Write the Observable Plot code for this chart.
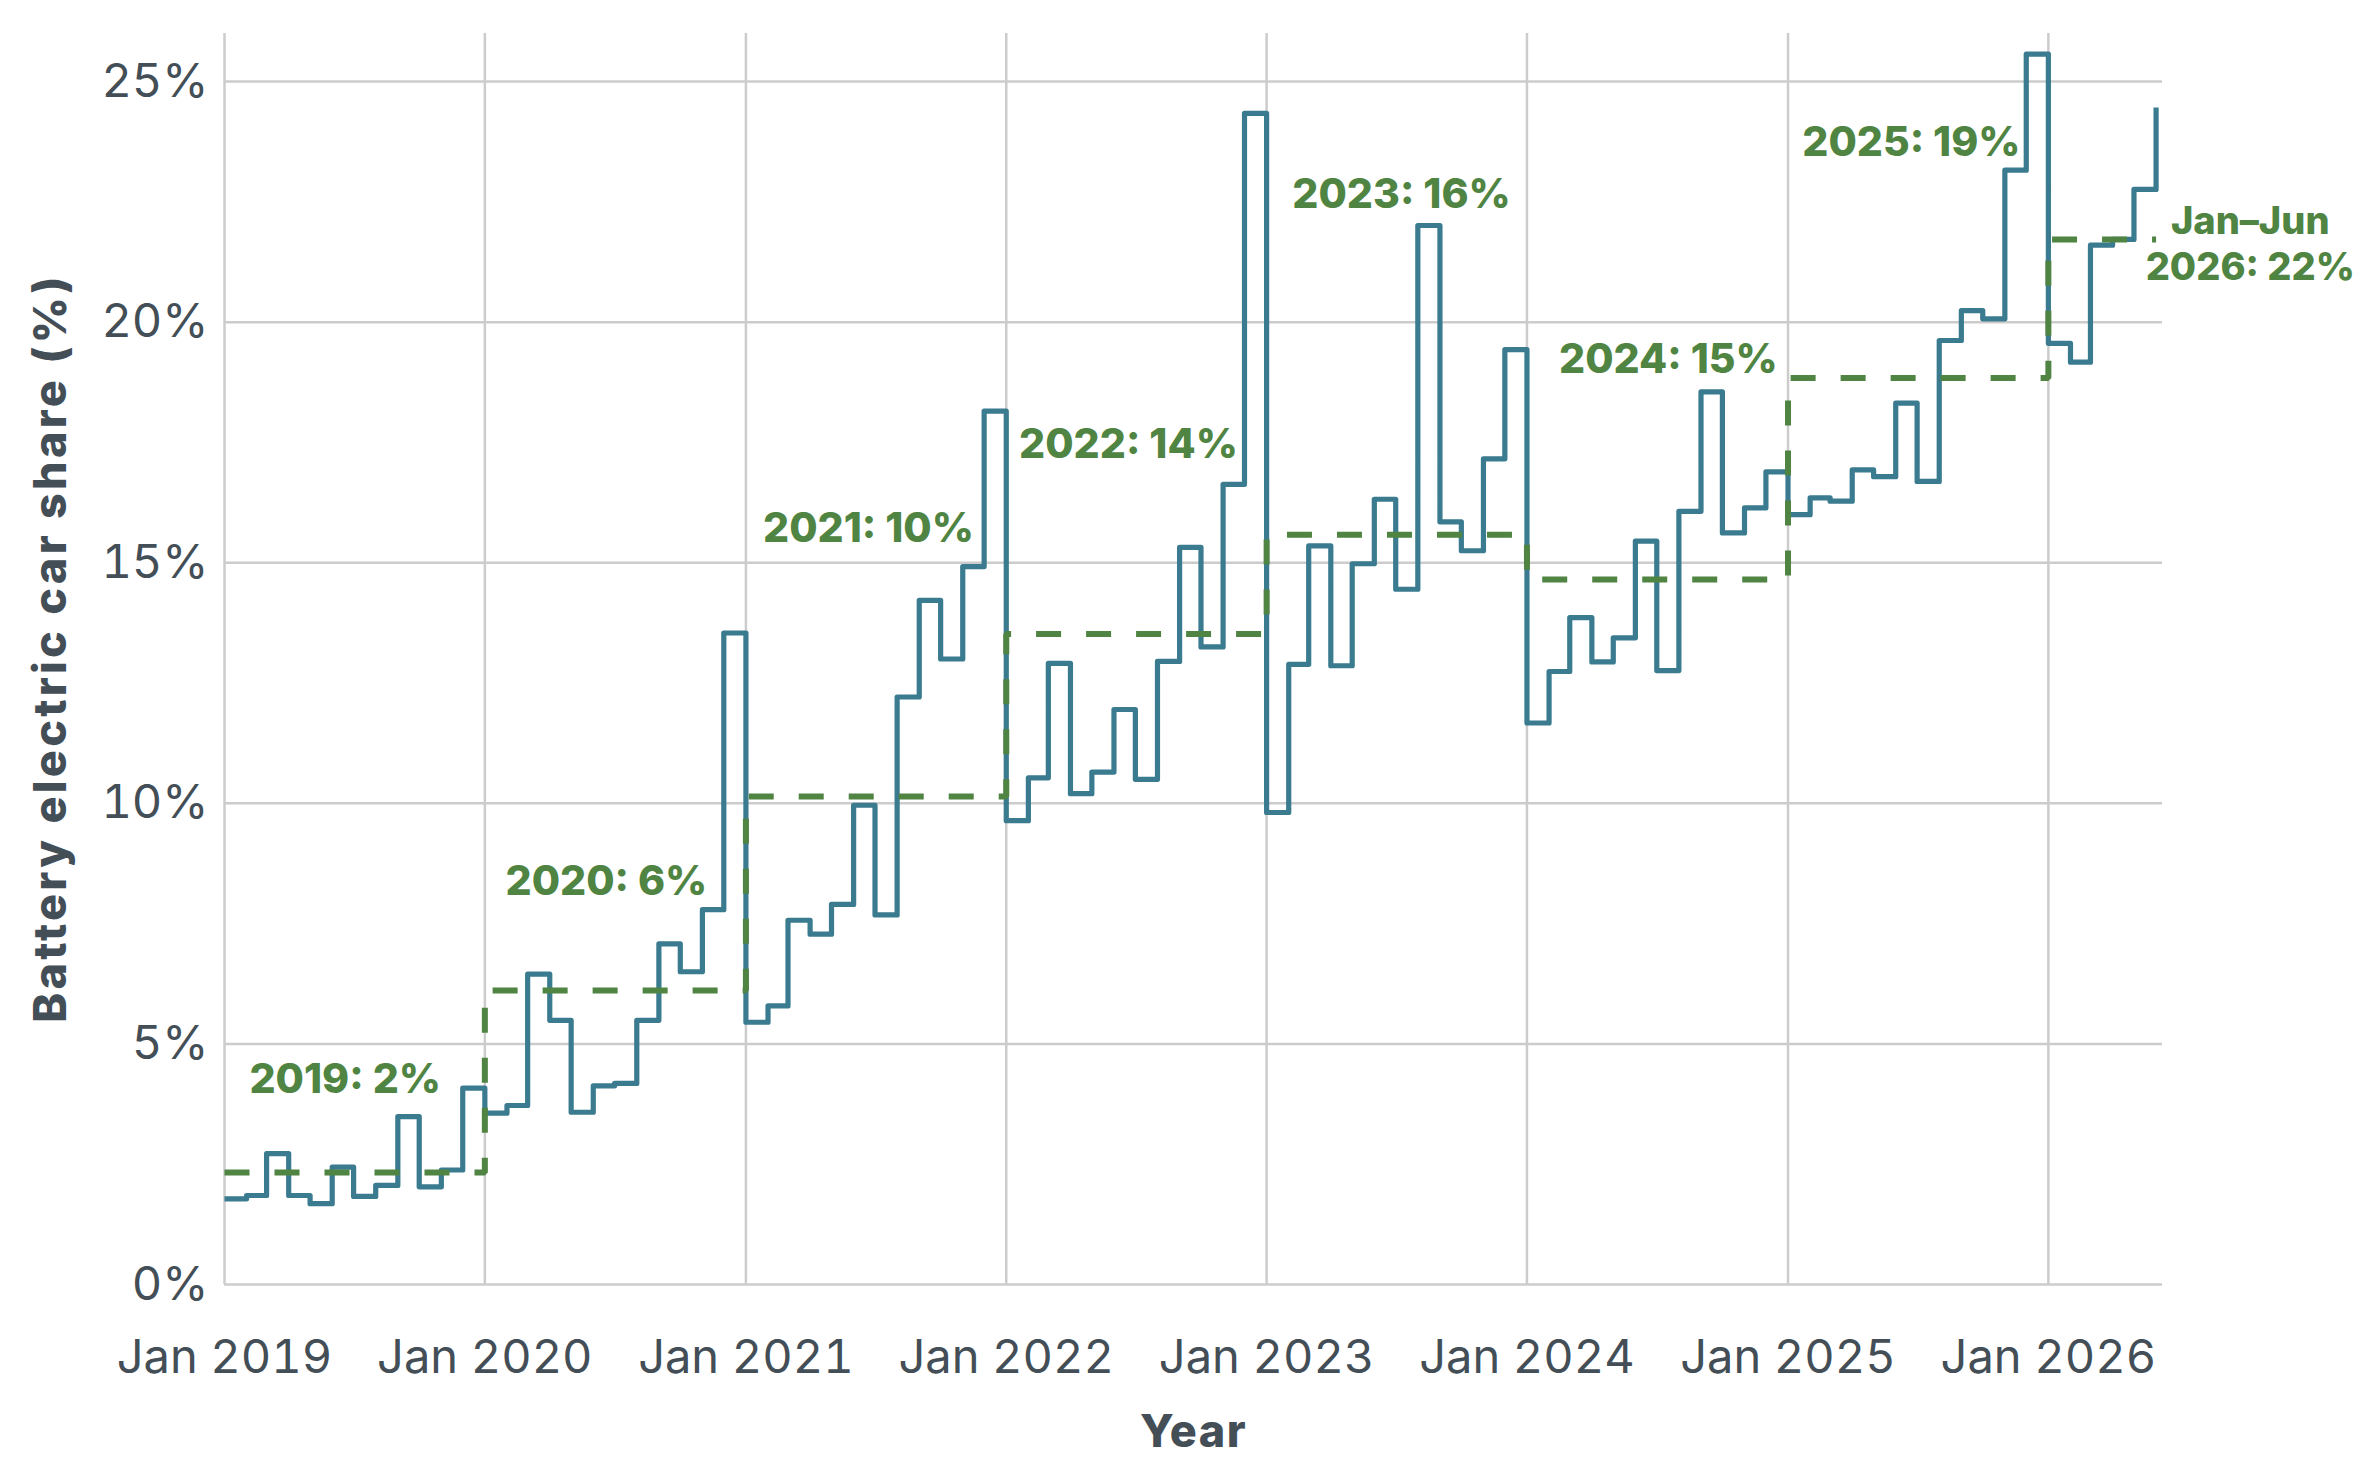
<!DOCTYPE html>
<html>
<head>
<meta charset="utf-8">
<script src="https://cdn.jsdelivr.net/npm/d3@7"></script>
<script src="https://cdn.jsdelivr.net/npm/@observablehq/plot@0.6"></script>
<style>
  html, body { margin: 0; padding: 0; background: #ffffff; }
  #chart svg { display: block; }
  .ytitle text { letter-spacing: 3.3px; }
  .xtitle text { letter-spacing: 1.5px; }
</style>
</head>
<body>
<div id="chart"></div>
<script>
// Monthly battery electric car share (%), Jan 2019 – Jun 2026
const startMonth = "2019-01-01";
const share2019 = [1.78, 1.85, 2.72, 1.85, 1.68, 2.44, 1.83, 2.06, 3.49, 2.03, 2.38, 4.08];
const share2020 = [3.56, 3.72, 6.45, 5.49, 3.58, 4.13, 4.18, 5.49, 7.08, 6.50, 7.79, 13.54];
const share2021 = [5.45, 5.79, 7.57, 7.28, 7.90, 9.96, 7.68, 12.21, 14.22, 13.00, 14.92, 18.15];
const share2022 = [9.64, 10.53, 12.91, 10.20, 10.65, 11.95, 10.50, 12.95, 15.32, 13.25, 16.63, 24.34];
const share2023 = [9.81, 12.89, 15.35, 12.86, 14.98, 16.32, 14.45, 22.01, 15.85, 15.25, 17.16, 19.43];
const share2024 = [11.67, 12.74, 13.86, 12.94, 13.44, 15.45, 12.76, 16.07, 18.55, 15.62, 16.14, 16.89];
const share2025 = [16.00, 16.35, 16.28, 16.93, 16.79, 18.32, 16.69, 19.62, 20.24, 20.07, 23.16, 25.57];
const share2026 = [19.56, 19.17, 21.60, 21.72, 22.76, 24.46];

// Annual averages (%)
const years = [2019, 2020, 2021, 2022, 2023, 2024, 2025, 2026];
const annualShare = [2.33, 6.11, 10.14, 13.52, 15.58, 14.65, 18.84, 21.72];

// Annotation labels (anchored in data units)
const labelText = ["2019: 2%", "2020: 6%", "2021: 10%", "2022: 14%", "2023: 16%", "2024: 15%", "2025: 19%"];
const labelDate = ["2019-02-05", "2020-01-30", "2021-01-25", "2022-01-19", "2023-02-06", "2024-02-15", "2025-01-21"];
const labelValue = [3.97, 8.10, 15.44, 17.17, 22.37, 18.94, 23.45];
const lastLabelText = ["Jan–Jun", "2026: 22%"];
const lastLabelDate = "2026-10-11";
const lastLabelValue = [21.84, 20.87];

// Axis ticks
const xTickYears = [2019, 2020, 2021, 2022, 2023, 2024, 2025, 2026];
const yTicks = [0, 5, 10, 15, 20, 25];
const xDomainEnd = "2026-06-10";
const yDomain = [0, 26];

// ---- build tables ----
const allShares = [share2019, share2020, share2021, share2022, share2023, share2024, share2025, share2026].flat();
const t0 = new Date(startMonth);
const monthly = allShares.map((v, i) => ({
  date: new Date(Date.UTC(t0.getUTCFullYear(), t0.getUTCMonth() + i, 1)),
  value: v
}));
const lastDate = monthly[monthly.length - 1].date;
const annual = years.map((y, i) => ({date: new Date(Date.UTC(y, 0, 1)), value: annualShare[i]}));
annual.push({date: lastDate, value: annualShare[annualShare.length - 1]});
const labels = labelText.map((t, i) => ({text: t, date: new Date(labelDate[i]), value: labelValue[i]}));
const lastLabel = lastLabelText.map((t, i) => ({text: t, date: new Date(lastLabelDate), value: lastLabelValue[i]}));
const xTicks = xTickYears.map(y => new Date(Date.UTC(y, 0, 1)));

const blue = "#3a7b90";
const green = "#4f8442";
const textGray = "#434e57";
const gridGray = "#cccccc";

const chart = Plot.plot({
  width: 2366,
  height: 1460,
  marginLeft: 224,
  marginRight: 204,
  marginTop: 33,
  marginBottom: 176,
  style: {fontFamily: "Inter, 'Noto Sans', sans-serif", background: "#ffffff", color: textGray},
  x: {type: "utc", domain: [new Date(startMonth), new Date(xDomainEnd)]},
  y: {domain: yDomain},
  marks: [
    Plot.gridX(xTicks, {stroke: gridGray, strokeOpacity: 1, strokeWidth: 2.5}),
    Plot.gridY(yTicks, {stroke: gridGray, strokeOpacity: 1, strokeWidth: 2.5}),
    Plot.axisX(xTicks, {
      tickSize: 0, tickPadding: 55, fontSize: 47, label: null,
      tickFormat: d3.utcFormat("%b %Y"), fill: textGray
    }),
    Plot.axisY(yTicks, {
      tickSize: 0, tickPadding: 16, fontSize: 47, label: null,
      tickFormat: d => d + "%", fill: textGray
    }),
    Plot.line(monthly, {
      x: "date", y: "value", curve: "step-after",
      stroke: blue, strokeWidth: 5.2, strokeLinejoin: "round", strokeLinecap: "butt"
    }),
    Plot.line(annual, {
      x: "date", y: "value", curve: "step-after",
      stroke: green, strokeWidth: 6, strokeDasharray: "25,25", strokeLinecap: "butt", strokeLinejoin: "miter"
    }),
    Plot.text(labels, {
      x: "date", y: "value", text: "text",
      textAnchor: "start", lineAnchor: "bottom",
      fontSize: 41, fontWeight: 800, fill: green
    }),
    Plot.text(lastLabel, {
      x: "date", y: "value", text: "text",
      textAnchor: "middle", lineAnchor: "bottom",
      fontSize: 38, fontWeight: 800, fill: green
    }),
    Plot.text(["Battery electric car share (%)"], {
      frameAnchor: "left", rotate: -90, dx: -173, dy: -11,
      textAnchor: "middle", lineAnchor: "middle",
      fontSize: 45, fontWeight: 800, fill: textGray, className: "ytitle"
    }),
    Plot.text(["Year"], {
      frameAnchor: "bottom", dy: 162, lineAnchor: "bottom",
      fontSize: 45, fontWeight: 800, fill: textGray, className: "xtitle"
    })
  ]
});
document.getElementById("chart").appendChild(chart);
</script>
</body>
</html>
